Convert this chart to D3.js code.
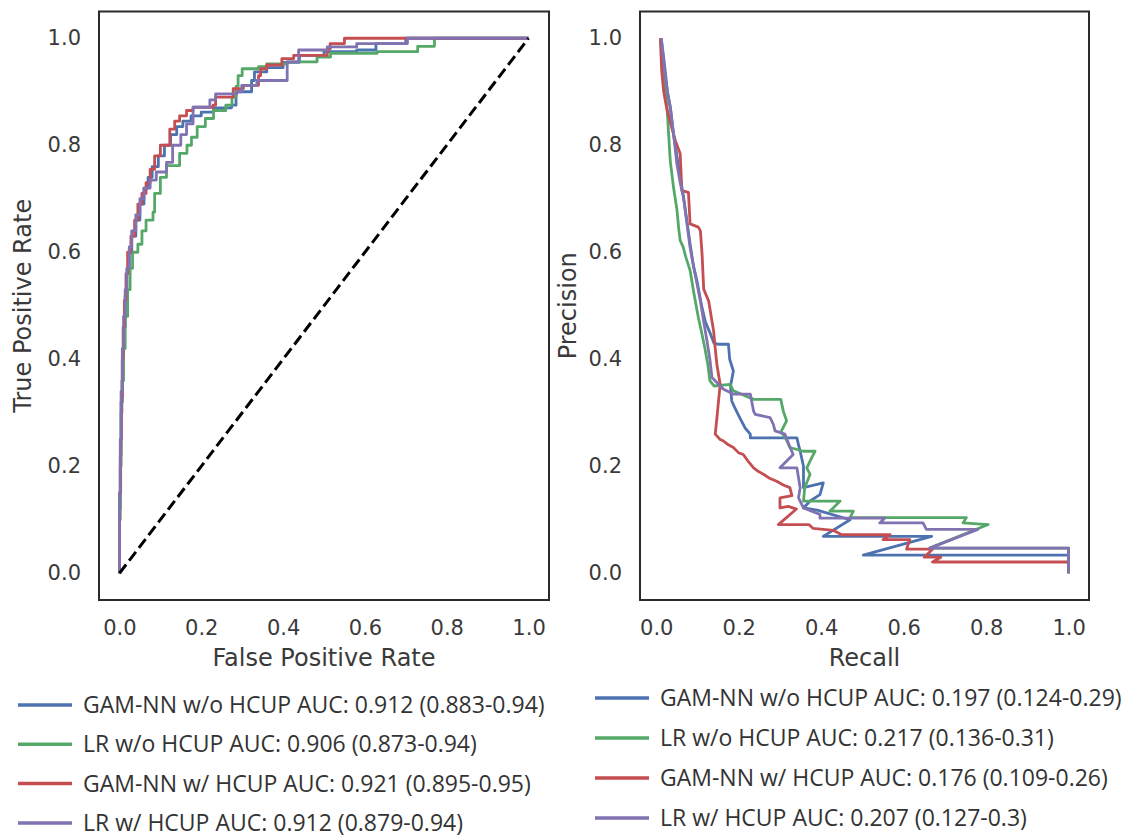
<!DOCTYPE html>
<html>
<head>
<meta charset="utf-8">
<script src="https://cdn.jsdelivr.net/npm/d3@7"></script>
<style>
  body { margin: 0; background: #fff; }
  svg { display: block; }
</style>
</head>
<body>
<div id="chart-container"></div>
<script>
// tick labels shared by both panels
var tick_values = [0.0, 0.2, 0.4, 0.6, 0.8, 1.0];

var model_names = ["GAM-NN w/o HCUP", "LR w/o HCUP", "GAM-NN w/ HCUP", "LR w/ HCUP"];
var roc_auc_text = ["0.912 (0.883-0.94)", "0.906 (0.873-0.94)", "0.921 (0.895-0.95)", "0.912 (0.879-0.94)"];
var pr_auc_text = ["0.197 (0.124-0.29)", "0.217 (0.136-0.31)", "0.176 (0.109-0.26)", "0.207 (0.127-0.3)"];

// ROC curves: [false positive rate, true positive rate]
var roc_gamnn_wo = [[0,0],[0,0.12],[0.002,0.22],[0.004,0.32],[0.007,0.4],[0.01,0.46],[0.014,0.52],[0.018,0.56],[0.024,0.6],[0.03,0.63],[0.04,0.66],[0.05,0.69],[0.06,0.72],[0.07,0.74],[0.08,0.76],[0.095,0.78],[0.11,0.8],[0.125,0.82],[0.14,0.835],[0.155,0.845],[0.175,0.855],[0.2,0.862],[0.23,0.87],[0.274,0.875],[0.285,0.9],[0.323,0.921],[0.33,0.937],[0.36,0.945],[0.4,0.955],[0.44,0.968],[0.5,0.975],[0.58,0.978],[0.627,0.99],[0.7,1.0],[1,1]];
var roc_lr_wo = [[0,0],[0,0.1],[0.002,0.2],[0.004,0.3],[0.006,0.36],[0.01,0.42],[0.014,0.48],[0.02,0.53],[0.026,0.57],[0.032,0.6],[0.045,0.615],[0.055,0.64],[0.065,0.66],[0.082,0.675],[0.086,0.71],[0.1,0.74],[0.115,0.762],[0.147,0.785],[0.165,0.8],[0.176,0.815],[0.19,0.835],[0.21,0.85],[0.23,0.865],[0.26,0.875],[0.275,0.89],[0.285,0.91],[0.29,0.93],[0.3,0.943],[0.34,0.947],[0.36,0.952],[0.41,0.956],[0.483,0.965],[0.516,0.972],[0.63,0.975],[0.729,0.985],[0.77,0.99],[0.77,1.0],[1,1]];
var roc_gamnn_w = [[0,0],[0,0.15],[0.003,0.25],[0.005,0.33],[0.007,0.4],[0.009,0.46],[0.012,0.51],[0.016,0.56],[0.02,0.6],[0.028,0.63],[0.037,0.66],[0.045,0.69],[0.055,0.71],[0.065,0.73],[0.075,0.755],[0.086,0.78],[0.1,0.8],[0.123,0.83],[0.135,0.845],[0.147,0.855],[0.164,0.865],[0.18,0.871],[0.229,0.875],[0.235,0.89],[0.278,0.906],[0.303,0.912],[0.34,0.93],[0.345,0.943],[0.36,0.95],[0.397,0.962],[0.426,0.968],[0.508,0.98],[0.515,0.99],[0.55,1.0],[1,1]];
var roc_lr_w = [[0,0],[0,0.15],[0.002,0.25],[0.004,0.34],[0.007,0.42],[0.01,0.48],[0.014,0.53],[0.018,0.57],[0.024,0.61],[0.03,0.64],[0.04,0.67],[0.05,0.7],[0.06,0.72],[0.075,0.735],[0.09,0.75],[0.115,0.768],[0.13,0.8],[0.15,0.82],[0.164,0.84],[0.18,0.871],[0.221,0.885],[0.235,0.896],[0.287,0.9],[0.299,0.912],[0.336,0.921],[0.397,0.921],[0.41,0.956],[0.438,0.978],[0.508,0.984],[0.58,0.99],[0.704,0.99],[0.704,1.0],[1,1]];

// PR curves: [recall, precision]
var pr_gamnn_wo = [[0.012,1.0],[0.02,0.95],[0.027,0.9],[0.034,0.871],[0.042,0.82],[0.05,0.78],[0.058,0.74],[0.066,0.703],[0.074,0.66],[0.082,0.615],[0.09,0.575],[0.099,0.545],[0.11,0.5],[0.119,0.47],[0.13,0.45],[0.14,0.43],[0.151,0.428],[0.175,0.428],[0.178,0.4],[0.187,0.378],[0.18,0.35],[0.183,0.322],[0.19,0.31],[0.203,0.29],[0.215,0.272],[0.228,0.26],[0.228,0.253],[0.341,0.253],[0.345,0.24],[0.349,0.228],[0.357,0.2],[0.357,0.16],[0.405,0.169],[0.397,0.147],[0.373,0.135],[0.357,0.122],[0.39,0.118],[0.47,0.1],[0.405,0.069],[0.668,0.069],[0.502,0.034],[1.0,0.034],[1.0,0.0]];
var pr_lr_wo = [[0.01,1.0],[0.016,0.95],[0.022,0.9],[0.026,0.871],[0.03,0.82],[0.034,0.77],[0.042,0.72],[0.05,0.68],[0.055,0.64],[0.058,0.622],[0.065,0.61],[0.072,0.59],[0.082,0.566],[0.092,0.52],[0.102,0.478],[0.11,0.45],[0.118,0.42],[0.125,0.39],[0.13,0.36],[0.14,0.35],[0.179,0.353],[0.187,0.341],[0.236,0.325],[0.302,0.325],[0.308,0.303],[0.316,0.285],[0.303,0.265],[0.315,0.25],[0.324,0.235],[0.357,0.228],[0.385,0.228],[0.377,0.216],[0.365,0.197],[0.373,0.185],[0.36,0.16],[0.357,0.135],[0.446,0.135],[0.421,0.116],[0.478,0.116],[0.47,0.104],[0.752,0.104],[0.744,0.094],[0.805,0.091],[0.663,0.047],[1.0,0.047],[1.0,0.0]];
var pr_gamnn_w = [[0.01,1.0],[0.013,0.94],[0.018,0.9],[0.025,0.87],[0.035,0.84],[0.046,0.809],[0.058,0.784],[0.062,0.715],[0.078,0.712],[0.082,0.653],[0.102,0.647],[0.107,0.64],[0.111,0.597],[0.115,0.531],[0.127,0.509],[0.139,0.453],[0.143,0.42],[0.147,0.39],[0.155,0.353],[0.151,0.322],[0.147,0.29],[0.143,0.26],[0.155,0.25],[0.163,0.247],[0.175,0.24],[0.187,0.235],[0.2,0.225],[0.211,0.222],[0.224,0.208],[0.236,0.197],[0.248,0.19],[0.26,0.185],[0.276,0.177],[0.292,0.172],[0.308,0.165],[0.324,0.16],[0.329,0.145],[0.3,0.141],[0.3,0.122],[0.32,0.125],[0.34,0.12],[0.296,0.091],[0.37,0.091],[0.38,0.084],[0.43,0.08],[0.45,0.072],[0.567,0.072],[0.55,0.063],[0.615,0.063],[0.607,0.045],[0.67,0.045],[0.65,0.03],[0.69,0.03],[0.67,0.021],[1.0,0.021],[1.0,0.0]];
var pr_lr_w = [[0.012,1.0],[0.02,0.94],[0.027,0.9],[0.034,0.871],[0.042,0.82],[0.05,0.765],[0.058,0.73],[0.066,0.703],[0.074,0.655],[0.082,0.609],[0.09,0.575],[0.099,0.54],[0.107,0.509],[0.115,0.47],[0.123,0.434],[0.13,0.4],[0.135,0.366],[0.163,0.344],[0.187,0.335],[0.228,0.335],[0.236,0.303],[0.24,0.297],[0.276,0.291],[0.284,0.278],[0.288,0.266],[0.312,0.26],[0.322,0.24],[0.332,0.222],[0.3,0.197],[0.341,0.197],[0.349,0.16],[0.345,0.141],[0.357,0.122],[0.397,0.11],[0.397,0.103],[0.554,0.103],[0.542,0.094],[0.647,0.094],[0.655,0.082],[0.78,0.082],[0.663,0.047],[1.0,0.047],[1.0,0.0]];

var chance_line = [[0, 0], [1, 1]];

var palette = ["#4C72B0", "#55A868", "#C44E52", "#8172B2"];

draw_chart();

function draw_chart() {
  var width = 1125;
  var height = 838;

  var svg = d3
    .select("#chart-container")
    .append("svg")
    .attr("width", width)
    .attr("height", height);

  svg.append("rect").attr("width", width).attr("height", height).attr("fill", "#fff");

  draw_panel(svg, {
    left: 99,
    right: 549,
    xdomain: [-0.05, 1.05],
    series: [roc_gamnn_wo, roc_lr_wo, roc_gamnn_w, roc_lr_w],
    curve: d3.curveStepAfter,
    diagonal: true,
    xlabel: "False Positive Rate",
    ylabel: "True Positive Rate",
    ylabel_x: 31,
    auc: roc_auc_text,
    legend_x: 18,
    legend_y: 705,
    legend_step: 39.3
  });

  draw_panel(svg, {
    left: 640,
    right: 1089,
    xdomain: [-0.0395, 1.0495],
    series: [pr_gamnn_wo, pr_lr_wo, pr_gamnn_w, pr_lr_w],
    curve: d3.curveLinear,
    diagonal: false,
    xlabel: "Recall",
    ylabel: "Precision",
    ylabel_x: 576,
    auc: pr_auc_text,
    legend_x: 595,
    legend_y: 698,
    legend_step: 40
  });
}

function draw_panel(svg, cfg) {
  var top = 11.5;
  var bottom = 600;

  var x = d3.scaleLinear().domain(cfg.xdomain).range([cfg.left, cfg.right]);
  var y = d3.scaleLinear().domain([-0.05, 1.05]).range([bottom, top]);

  var line = d3
    .line()
    .x(function (d) { return x(d[0]); })
    .y(function (d) { return y(d[1]); })
    .curve(cfg.curve);

  cfg.series.forEach(function (s, i) {
    svg
      .append("path")
      .datum(s)
      .attr("d", line)
      .attr("fill", "none")
      .attr("stroke", palette[i])
      .attr("stroke-width", 2.8)
      .attr("stroke-linejoin", "round");
  });

  if (cfg.diagonal) {
    svg
      .append("path")
      .datum(chance_line)
      .attr("d", d3.line().x(function (d) { return x(d[0]); }).y(function (d) { return y(d[1]); }))
      .attr("fill", "none")
      .attr("stroke", "#000")
      .attr("stroke-width", 3)
      .attr("stroke-dasharray", "11,5");
  }

  // frame
  svg
    .append("rect")
    .attr("x", cfg.left)
    .attr("y", top)
    .attr("width", cfg.right - cfg.left)
    .attr("height", bottom - top)
    .attr("fill", "none")
    .attr("stroke", "#2b2b2b")
    .attr("stroke-width", 2);

  var xaxis = svg
    .append("g")
    .attr("transform", "translate(0," + bottom + ")")
    .call(d3.axisBottom(x).tickValues(tick_values).tickSize(0).tickPadding(20).tickFormat(d3.format(".1f")));
  var yaxis = svg
    .append("g")
    .attr("transform", "translate(" + cfg.left + ",0)")
    .call(d3.axisLeft(y).tickValues(tick_values).tickSize(0).tickPadding(18).tickFormat(d3.format(".1f")));

  [xaxis, yaxis].forEach(function (g) {
    g.select(".domain").remove();
    g.selectAll("text")
      .attr("font-family", "DejaVu Sans")
      .attr("font-size", 21)
      .attr("fill", "#3a3a3a");
  });

  svg
    .append("text")
    .attr("x", (cfg.left + cfg.right) / 2)
    .attr("y", 666)
    .attr("text-anchor", "middle")
    .attr("font-family", "DejaVu Sans")
    .attr("font-size", 24)
    .attr("fill", "#3a3a3a")
    .text(cfg.xlabel);

  svg
    .append("text")
    .attr("transform", "translate(" + cfg.ylabel_x + "," + (top + bottom) / 2 + ") rotate(-90)")
    .attr("text-anchor", "middle")
    .attr("font-family", "DejaVu Sans")
    .attr("font-size", 24)
    .attr("fill", "#3a3a3a")
    .text(cfg.ylabel);

  // legend below the panel
  var legend = svg
    .append("g")
    .attr("transform", "translate(" + cfg.legend_x + "," + cfg.legend_y + ")");

  model_names.forEach(function (name, i) {
    var row = legend.append("g").attr("transform", "translate(0," + i * cfg.legend_step + ")");
    row
      .append("line")
      .attr("x1", 0)
      .attr("x2", 54)
      .attr("stroke", palette[i])
      .attr("stroke-width", 3.5);
    row
      .append("text")
      .attr("x", 65)
      .attr("dy", "0.35em")
      .attr("font-family", "Open Sans")
      .attr("font-size", 23)
      .attr("fill", "#333")
      .text(name + " AUC: " + cfg.auc[i]);
  });
}
</script>
</body>
</html>
